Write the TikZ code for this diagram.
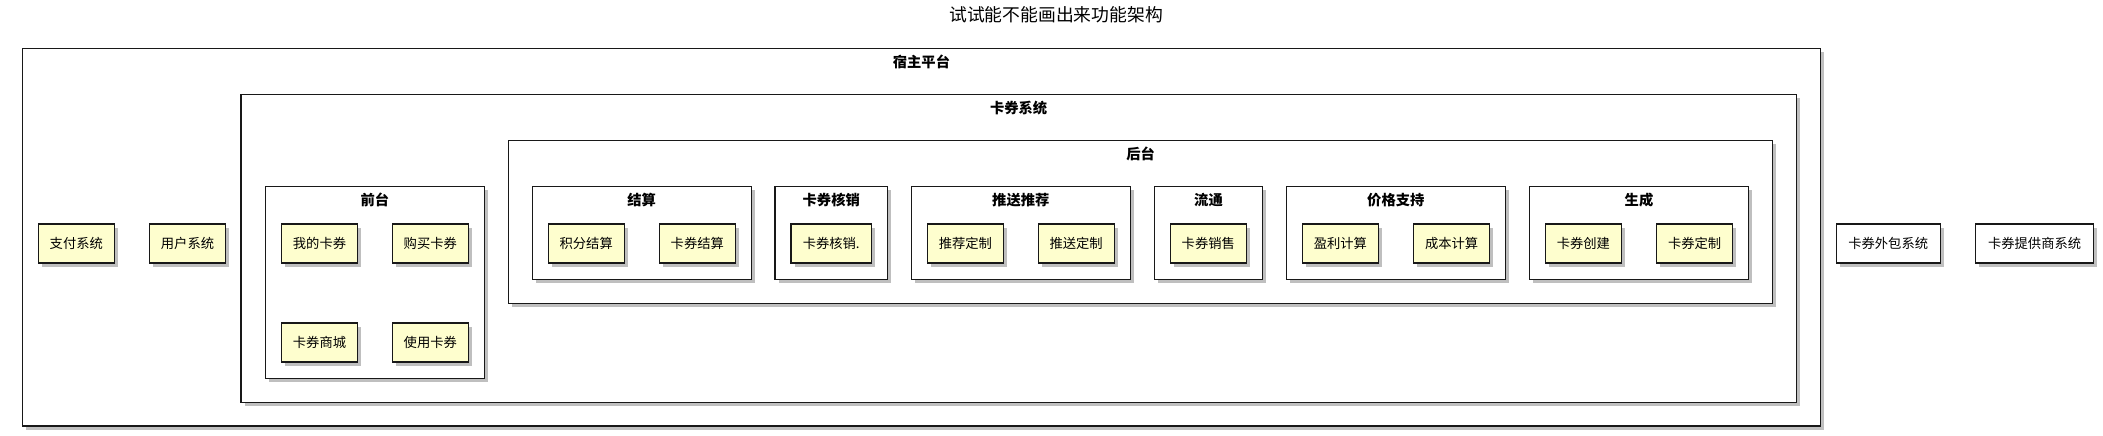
\documentclass[tikz,border=0pt]{standalone}
\usepackage{fontspec}
\setmainfont{Noto Sans CJK SC}
\usetikzlibrary{shadows,calc}
\definecolor{itemfill}{RGB}{254,254,206}
\definecolor{edge}{RGB}{24,24,24}
\tikzset{
  shad/.style={drop shadow={shadow xshift=3.5pt,shadow yshift=-3.5pt,opacity=.45,fill=black!55}},
  pkg/.style={draw=edge,line width=1.1pt,fill=white,shad,inner sep=0pt,outer sep=0pt},
  itembox/.style={draw=edge,line width=1.1pt,fill=itemfill,shad,inner sep=0pt,outer sep=0pt,
    minimum width=76pt,minimum height=39pt,font=\fontsize{13.3}{15}\selectfont},
  extbox/.style={itembox,fill=white},
  pkglabel/.style={font=\fontsize{14.3}{16}\selectfont\bfseries,inner sep=0pt},
  titlelabel/.style={font=\fontsize{17.8}{19}\selectfont,inner sep=0pt}
}
\begin{document}
\begin{tikzpicture}[x=1pt,y=-1pt]
\useasboundingbox (0,0) rectangle (2103,436);
\node[titlelabel] (title) at (1056,15) {试试能不能画出来功能架构};
% packages
\node[pkg,minimum width=1798.3pt,minimum height=377.7pt] (host) at (921.45,237.15) {};
\node[pkglabel] (hostL) at ($(host.north)+(0,13.5)$) {宿主平台};
\node[pkg,minimum width=1555.3pt,minimum height=308pt] (card) at (1018.65,248.3) {};
\node[pkglabel] (cardL) at ($(card.north)+(0,13.5)$) {卡券系统};
\node[pkg,minimum width=1264.1pt,minimum height=163pt] (back) at (1140.55,221.8) {};
\node[pkglabel] (backL) at ($(back.north)+(0,13.5)$) {后台};
\node[pkg,minimum width=219.1pt,minimum height=192pt] (front) at (374.85,282.3) {};
\node[pkglabel] (frontL) at ($(front.north)+(0,13.5)$) {前台};
\node[pkg,minimum width=219.2pt,minimum height=93pt] (settle) at (641.7,232.8) {};
\node[pkglabel] (settleL) at ($(settle.north)+(0,13.5)$) {结算};
\node[pkg,minimum width=112.5pt,minimum height=93pt] (verify) at (831.25,232.8) {};
\node[pkglabel] (verifyL) at ($(verify.north)+(0,13.5)$) {卡券核销};
\node[pkg,minimum width=219.2pt,minimum height=93pt] (push) at (1020.8,232.8) {};
\node[pkglabel] (pushL) at ($(push.north)+(0,13.5)$) {推送推荐};
\node[pkg,minimum width=108pt,minimum height=93pt] (flow) at (1208.5,232.8) {};
\node[pkglabel] (flowL) at ($(flow.north)+(0,13.5)$) {流通};
\node[pkg,minimum width=219.2pt,minimum height=93pt] (price) at (1395.8,232.8) {};
\node[pkglabel] (priceL) at ($(price.north)+(0,13.5)$) {价格支持};
\node[pkg,minimum width=218.8pt,minimum height=93pt] (gen) at (1639,232.8) {};
\node[pkglabel] (genL) at ($(gen.north)+(0,13.5)$) {生成};
% items
\node[itembox] (pay) at (76.3,243.5) {支付系统};
\node[itembox] (user) at (187.5,243.5) {用户系统};
\node[itembox] (mine) at (319.5,243.5) {我的卡券};
\node[itembox] (buy) at (430.3,243.5) {购买卡券};
\node[itembox] (mall) at (319.5,342.5) {卡券商城};
\node[itembox] (use) at (430.3,342.5) {使用卡券};
\node[itembox] (points) at (586.2,243.5) {积分结算};
\node[itembox] (cardset) at (697.3,243.5) {卡券结算};
\node[itembox,minimum width=80.4pt] (verifyI) at (831.2,243.5) {卡券核销.};
\node[itembox] (rec) at (965.4,243.5) {推荐定制};
\node[itembox] (pushI) at (1076.1,243.5) {推送定制};
\node[itembox] (sale) at (1208.3,243.5) {卡券销售};
\node[itembox] (profit) at (1340.4,243.5) {盈利计算};
\node[itembox] (cost) at (1451.6,243.5) {成本计算};
\node[itembox] (create) at (1583.4,243.5) {卡券创建};
\node[itembox] (custom) at (1694.6,243.5) {卡券定制};
\node[extbox,minimum width=104pt] (outsrc) at (1888.2,243.5) {卡券外包系统};
\node[extbox,minimum width=118pt] (provider) at (2034.6,243.5) {卡券提供商系统};
\end{tikzpicture}
\end{document}
